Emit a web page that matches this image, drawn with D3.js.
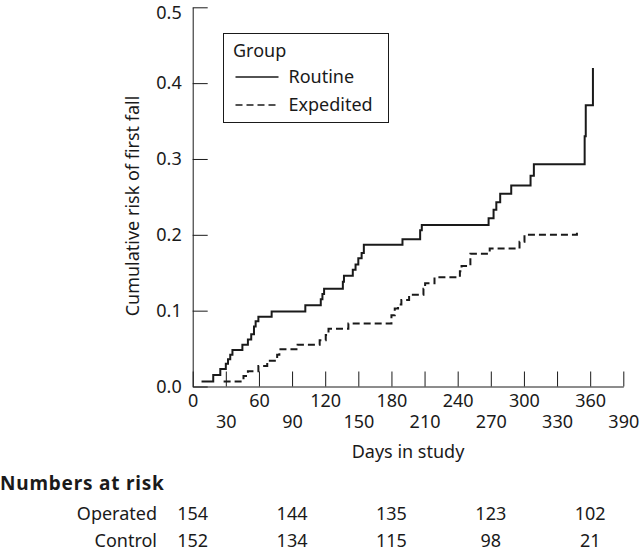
<!DOCTYPE html>
<html>
<head>
<meta charset="utf-8">
<script src="https://cdn.jsdelivr.net/npm/d3@7"></script>
<style>
  html, body { margin: 0; padding: 0; background: #fff; }
  svg { display: block; }
  text { font-family: "Noto Sans", sans-serif; fill: #1a1a1a; }
</style>
</head>
<body>
<svg id="chart" width="640" height="554"></svg>
<script>
// ---- data ----
const routineDays = [8, 18.6, 25, 30, 32, 34, 36, 45, 50, 53, 55.5, 57, 59.5, 71.5, 102, 116, 117.5, 119, 136, 137, 145, 147.5, 150, 153, 155, 190, 206, 207.5, 268, 272.5, 275, 278.5, 288.5, 306, 309, 355, 356, 362.5];
const routineRisk = [0.0066, 0.015, 0.023, 0.030, 0.036, 0.042, 0.048, 0.055, 0.062, 0.069, 0.079, 0.086, 0.092, 0.099, 0.107, 0.115, 0.122, 0.129, 0.138, 0.146, 0.154, 0.161, 0.169, 0.176, 0.187, 0.194, 0.206, 0.213, 0.222, 0.233, 0.243, 0.254, 0.265, 0.278, 0.293, 0.330, 0.371, 0.420];
const expeditedDays = [28, 46, 50, 59.5, 67.5, 76.5, 78.5, 95, 115, 120.5, 123, 141, 180, 183, 186, 189, 196, 209, 210.5, 219, 242, 243.5, 251.5, 269, 296, 300.5, 348];
const expeditedRisk = [0.0066, 0.014, 0.020, 0.027, 0.034, 0.042, 0.049, 0.055, 0.061, 0.068, 0.076, 0.083, 0.094, 0.103, 0.108, 0.114, 0.121, 0.129, 0.136, 0.144, 0.152, 0.159, 0.175, 0.182, 0.191, 0.200, 0.206];
const xTicks = [0, 30, 60, 90, 120, 150, 180, 210, 240, 270, 300, 330, 360, 390];
const yTicks = [0.0, 0.1, 0.2, 0.3, 0.4, 0.5];
const riskDays = [0, 90, 180, 270, 360];
const riskGroups = ["Operated", "Control"];
const operatedAtRisk = [154, 144, 135, 123, 102];
const controlAtRisk = [152, 134, 115, 98, 21];
const legendLabels = ["Routine", "Expedited"];

// ---- chart ----
const svg = d3.select("#chart");
const ink = "#1a1a1a";
const fs = 18;

const x = d3.scaleLinear().domain([0, 390]).range([192.7, 623.3]);
const y = d3.scaleLinear().domain([0, 0.5]).range([386.5, 7.3]);

// x axis
const xAxis = d3.axisBottom(x).tickValues(xTicks).tickSizeInner(-15).tickSizeOuter(0).tickPadding(8).tickFormat(d3.format("d"));
const gx = svg.append("g").attr("transform", `translate(0,${y(0)})`).call(xAxis);
gx.selectAll("text").attr("font-size", fs).attr("font-family", null)
  .attr("y", (d, i) => (i % 2 === 0 ? 8 : 28.5));
gx.selectAll("line").attr("stroke", ink);
gx.select(".domain").attr("stroke", ink);

// y axis
const yAxis = d3.axisLeft(y).tickValues(yTicks).tickSizeInner(-15).tickSizeOuter(0).tickPadding(11).tickFormat(d3.format(".1f"));
const gy = svg.append("g").attr("transform", `translate(${x(0)},0)`).call(yAxis);
gy.selectAll("text").attr("font-size", fs).attr("font-family", null)
  .attr("dy", d => (d === 0.5 ? "0.62em" : "0.32em"));
gy.selectAll("line").attr("stroke", ink);
gy.select(".domain").attr("stroke", ink);

// axis titles
svg.append("text").attr("transform", `translate(139,206) rotate(-90)`)
  .attr("text-anchor", "middle").attr("font-size", fs).text("Cumulative risk of first fall");
svg.append("text").attr("x", (x(0) + x(390)) / 2).attr("y", 458)
  .attr("text-anchor", "middle").attr("font-size", fs).text("Days in study");

// curves
const line = d3.line().x(d => x(d[0])).y(d => y(d[1])).curve(d3.curveStepAfter);
const routine = routineDays.map((d, i) => [d, routineRisk[i]]);
const expedited = expeditedDays.map((d, i) => [d, expeditedRisk[i]]);
svg.append("path").datum(routine).attr("d", line).attr("fill", "none")
  .attr("stroke", ink).attr("stroke-width", 2);
svg.append("path").datum(expedited).attr("d", line).attr("fill", "none")
  .attr("stroke", ink).attr("stroke-width", 2).attr("stroke-dasharray", "7,4");

// legend
const lg = svg.append("g");
lg.append("rect").attr("x", 223.5).attr("y", 33.5).attr("width", 165).attr("height", 89)
  .attr("fill", "#fff").attr("stroke", ink).attr("stroke-width", 1);
lg.append("text").attr("x", 233).attr("y", 57).attr("font-size", fs).text("Group");
legendLabels.forEach((lab, i) => {
  const cy = 77 + i * 28;
  lg.append("line").attr("x1", 235.5).attr("x2", 278.5).attr("y1", cy).attr("y2", cy)
    .attr("stroke", ink).attr("stroke-width", 1.5)
    .attr("stroke-dasharray", i === 1 ? "7,4" : null);
  lg.append("text").attr("x", 288.5).attr("y", cy).attr("dy", "0.35em").attr("font-size", fs).text(lab);
});

// numbers at risk table
svg.append("text").attr("x", 0).attr("y", 483).attr("dy", "0.35em").attr("font-size", 19)
  .attr("letter-spacing", 0.8).attr("font-weight", "bold").text("Numbers at risk");
const rows = [operatedAtRisk, controlAtRisk];
rows.forEach((vals, r) => {
  const cy = 514 + r * 27;
  svg.append("text").attr("x", 157).attr("y", cy).attr("dy", "0.35em").attr("text-anchor", "end")
    .attr("font-size", fs).text(riskGroups[r]);
  vals.forEach((v, j) => {
    svg.append("text").attr("x", x(riskDays[j])).attr("y", cy).attr("dy", "0.35em")
      .attr("text-anchor", "middle").attr("font-size", fs).text(v);
  });
});
</script>
</body>
</html>
